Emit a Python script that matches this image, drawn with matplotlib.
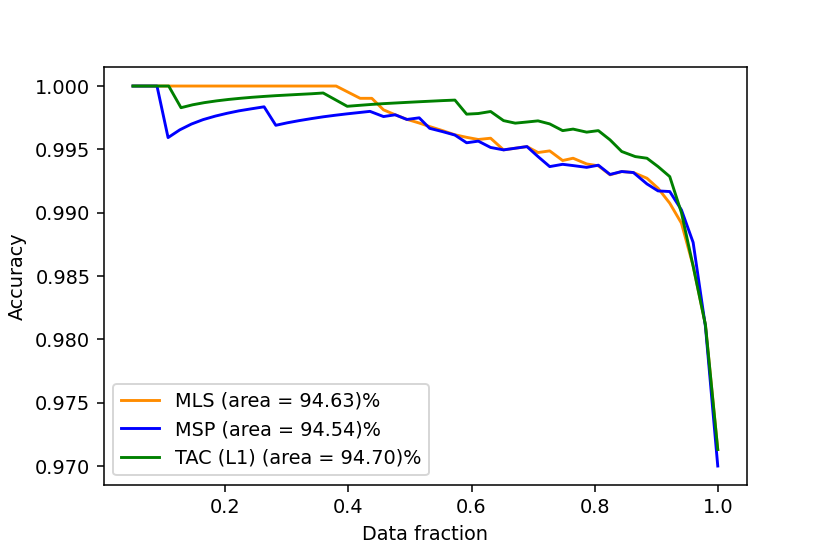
import matplotlib
matplotlib.use("Agg")
import matplotlib.pyplot as plt

# accuracy vs. data fraction (coverage)
mls_x = [0.05, 0.38, 0.419, 0.438, 0.457, 0.476, 0.495, 0.515, 0.532, 0.553, 0.573,
         0.592, 0.611, 0.631, 0.652, 0.671, 0.690, 0.708, 0.727, 0.748, 0.765,
         0.787, 0.806, 0.825, 0.844, 0.863, 0.885, 0.903, 0.922, 0.941, 0.960,
         0.980, 1.0]
mls_y = [1.0, 1.0, 0.99903, 0.99903, 0.99812, 0.99773, 0.99737, 0.99708, 0.99680,
         0.99648, 0.99615, 0.99595, 0.99578, 0.99588, 0.99496, 0.99509, 0.99522,
         0.99475, 0.99488, 0.99412, 0.99430, 0.99385, 0.99370, 0.99299, 0.99325,
         0.99317, 0.99272, 0.99193, 0.99075, 0.98917, 0.98580, 0.98115, 0.97130]

msp_x = [0.05, 0.089, 0.107, 0.126, 0.145, 0.164, 0.184, 0.203, 0.222, 0.242, 0.263,
         0.282, 0.301, 0.320, 0.340, 0.359, 0.378, 0.397, 0.416, 0.435, 0.457,
         0.476, 0.495, 0.515, 0.532, 0.553, 0.573, 0.592, 0.611, 0.631, 0.652,
         0.671, 0.690, 0.708, 0.727, 0.748, 0.765, 0.787, 0.806, 0.825, 0.844,
         0.863, 0.885, 0.903, 0.922, 0.941, 0.960, 0.980, 1.0]
msp_y = [1.0, 1.0, 0.99593, 0.99654, 0.99700, 0.99735, 0.99763, 0.99785, 0.99804,
         0.99820, 0.99836, 0.99690, 0.99710, 0.99727, 0.99743, 0.99757, 0.99769,
         0.99780, 0.99790, 0.99800, 0.99759, 0.99773, 0.99736, 0.99749, 0.99666,
         0.99640, 0.99613, 0.99552, 0.99565, 0.99515, 0.99496, 0.99509, 0.99522,
         0.99443, 0.99364, 0.99382, 0.99372, 0.99358, 0.99375, 0.99302, 0.99325,
         0.99317, 0.99227, 0.99172, 0.99167, 0.99022, 0.98765, 0.98100, 0.97000]

tac_x = [0.05, 0.108, 0.128, 0.147, 0.166, 0.186, 0.205, 0.224, 0.243, 0.263, 0.282,
         0.301, 0.320, 0.340, 0.359, 0.398, 0.419, 0.438, 0.457, 0.476, 0.495,
         0.515, 0.532, 0.553, 0.573, 0.592, 0.611, 0.631, 0.652, 0.671, 0.690,
         0.708, 0.727, 0.748, 0.765, 0.787, 0.806, 0.825, 0.844, 0.866, 0.885,
         0.903, 0.922, 0.941, 0.960, 0.980, 1.0]
tac_y = [1.0, 1.0, 0.99829, 0.99852, 0.99869, 0.99883, 0.99894, 0.99903, 0.99911,
         0.99918, 0.99924, 0.99929, 0.99934, 0.99939, 0.99945, 0.99840, 0.99848,
         0.99855, 0.99861, 0.99866, 0.99871, 0.99876, 0.99880, 0.99885, 0.99889,
         0.99778, 0.99783, 0.99799, 0.99727, 0.99707, 0.99716, 0.99725, 0.99701,
         0.99648, 0.99660, 0.99636, 0.99648, 0.99575, 0.99483, 0.99443, 0.99430,
         0.99364, 0.99285, 0.99000, 0.98578, 0.98114, 0.97130]

labels = ["MLS (area = 94.63)%", "MSP (area = 94.54)%", "TAC (L1) (area = 94.70)%"]

fig = plt.figure(figsize=(830 / 138.4, 554 / 138.4), dpi=138.4)
ax = fig.add_axes([0.125, 0.1245, 0.775, 0.7545])

ax.plot(mls_x, mls_y, color="darkorange", label=labels[0])
ax.plot(msp_x, msp_y, color="blue", label=labels[1])
ax.plot(tac_x, tac_y, color="green", label=labels[2])

ax.set_xlabel("Data fraction")
ax.set_ylabel("Accuracy")
ax.legend(loc="lower left")

fig.savefig("out.png", dpi=138.4)
